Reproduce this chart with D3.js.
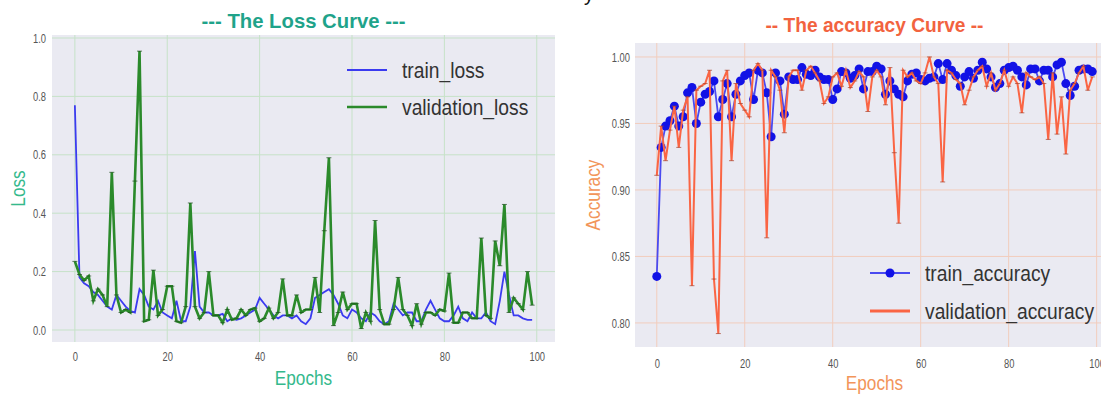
<!DOCTYPE html>
<html>
<head>
<meta charset="utf-8">
<script src="https://cdnjs.cloudflare.com/ajax/libs/d3/7.8.5/d3.min.js"></script>
<style>
  html, body { margin: 0; padding: 0; background: #fff; }
  svg { display: block; font-family: "Liberation Sans", Arial, sans-serif; }
</style>
</head>
<body>
<script>
// epochs 0..99
const epochs = d3.range(100);

const trainLoss = [
  0.77, 0.18, 0.16, 0.15, 0.13, 0.12, 0.10, 0.08, 0.07, 0.12,
  0.10, 0.08, 0.065, 0.06, 0.14, 0.12, 0.08, 0.07, 0.10, 0.06,
  0.05, 0.04, 0.10, 0.03, 0.03, 0.08, 0.27, 0.08, 0.06, 0.06,
  0.05, 0.05, 0.055, 0.03, 0.04, 0.035, 0.04, 0.05, 0.06, 0.07,
  0.11, 0.09, 0.07, 0.05, 0.04, 0.05, 0.05, 0.04, 0.05, 0.03,
  0.02, 0.04, 0.11, 0.12, 0.13, 0.14, 0.12, 0.09, 0.05, 0.04,
  0.07, 0.06, 0.04, 0.03, 0.06, 0.05, 0.03, 0.02, 0.03, 0.09,
  0.07, 0.05, 0.06, 0.06, 0.03, 0.03, 0.07, 0.10, 0.07, 0.04,
  0.03, 0.03, 0.05, 0.08, 0.04, 0.03, 0.06, 0.04, 0.04, 0.06,
  0.03, 0.02, 0.10, 0.20, 0.12, 0.05, 0.05, 0.04, 0.035, 0.035
];

const valLoss = [
  0.235, 0.19, 0.17, 0.185, 0.10, 0.14, 0.12, 0.08, 0.54, 0.12,
  0.06, 0.07, 0.06, 0.51, 0.955, 0.03, 0.035, 0.205, 0.05, 0.07,
  0.15, 0.15, 0.03, 0.025, 0.08, 0.435, 0.08, 0.04, 0.06, 0.20,
  0.05, 0.05, 0.025, 0.07, 0.035, 0.04, 0.07, 0.05, 0.07, 0.075,
  0.03, 0.04, 0.075, 0.04, 0.06, 0.175, 0.05, 0.05, 0.12, 0.06,
  0.07, 0.07, 0.18, 0.06, 0.34, 0.59, 0.015, 0.06, 0.13, 0.07,
  0.09, 0.09, 0.005, 0.06, 0.03, 0.375, 0.07, 0.02, 0.02, 0.07,
  0.18, 0.07, 0.05, 0.015, 0.09, 0.02, 0.06, 0.06, 0.05, 0.07,
  0.065, 0.195, 0.025, 0.025, 0.06, 0.06, 0.04, 0.04, 0.315, 0.05,
  0.04, 0.305, 0.22, 0.43, 0.06, 0.11, 0.09, 0.07, 0.20, 0.085
];

const trainAcc = [
  0.835, 0.932, 0.948, 0.952, 0.963, 0.948, 0.955, 0.973, 0.977, 0.950,
  0.966, 0.972, 0.974, 0.982, 0.955, 0.968, 0.980, 0.955, 0.972, 0.982,
  0.986, 0.988, 0.968, 0.990, 0.988, 0.973, 0.940, 0.988, 0.982, 0.957,
  0.985, 0.983, 0.983, 0.992, 0.987, 0.986, 0.990, 0.985, 0.983, 0.983,
  0.968, 0.976, 0.989, 0.988, 0.984, 0.986, 0.991, 0.976, 0.989, 0.989,
  0.993, 0.991, 0.972, 0.982, 0.976, 0.972, 0.970, 0.982, 0.987, 0.988,
  0.983, 0.982, 0.984, 0.985, 0.995, 0.983, 0.995, 0.990, 0.986, 0.978,
  0.985, 0.989, 0.984, 0.990, 0.996, 0.991, 0.985, 0.977, 0.980, 0.990,
  0.992, 0.993, 0.990, 0.985, 0.979, 0.991, 0.991, 0.982, 0.990, 0.990,
  0.985, 0.994, 0.996, 0.980, 0.971, 0.978, 0.990, 0.991, 0.991, 0.989
];

const valAcc = [
  0.911, 0.948, 0.922, 0.945, 0.963, 0.932, 0.960, 0.970, 0.828, 0.975,
  0.978, 0.980, 0.990, 0.833, 0.792, 0.982, 0.990, 0.922, 0.980, 0.965,
  0.960, 0.955, 0.990, 0.995, 0.990, 0.864, 0.990, 0.985, 0.975, 0.943,
  0.985, 0.990, 0.990, 0.975, 0.990, 0.993, 0.988, 0.982, 0.965, 0.970,
  0.985, 0.988, 0.978, 0.990, 0.977, 0.982, 0.989, 0.985, 0.959, 0.985,
  0.990, 0.985, 0.964, 0.992, 0.928, 0.875, 0.990, 0.985, 0.988, 0.982,
  0.980, 0.988, 1.000, 0.985, 0.980, 0.906, 0.990, 0.988, 0.983, 0.980,
  0.964, 0.975, 0.985, 0.990, 0.993, 0.978, 0.988, 0.975, 0.980, 0.990,
  0.978, 0.985, 0.980, 0.958, 0.988, 0.985, 0.983, 0.985, 0.980, 0.938,
  0.988, 0.942, 0.970, 0.927, 0.975, 0.980, 0.988, 0.993, 0.975, 0.985
];

const xTicks = [0, 20, 40, 60, 80, 100];
const lossTicks = [0.0, 0.2, 0.4, 0.6, 0.8, 1.0];
const accTicks = [0.80, 0.85, 0.90, 0.95, 1.00];

const W = 1101, H = 394;
const svg = d3.select("body").append("svg").attr("width", W).attr("height", H);

// squeeze text horizontally, the source uses a condensed face
const squeeze = (sel, factor) => sel.each(function () {
  const w = this.getComputedTextLength();
  d3.select(this).attr("textLength", w * factor).attr("lengthAdjust", "spacingAndGlyphs");
});

// stray glyph cut at the top edge of the source image
svg.append("text").attr("x", 584).attr("y", 1).attr("font-size", 20).attr("fill", "#111").text("y");

function drawPanel(p) {
  const x = d3.scaleLinear().domain([-4.95, 103.95]).range([p.left, p.right]);
  const y = d3.scaleLinear().domain(p.yDomain).range([p.bottom, p.top]);
  const g = svg.append("g");

  g.append("rect")
    .attr("x", p.left).attr("y", p.top)
    .attr("width", p.right - p.left).attr("height", p.bottom - p.top)
    .attr("fill", "#eaeaf2");

  // grid
  const grid = g.append("g").attr("stroke", p.gridColor).attr("stroke-width", 1);
  grid.selectAll(".gx").data(xTicks).enter().append("line")
    .attr("x1", d => x(d)).attr("x2", d => x(d))
    .attr("y1", p.top).attr("y2", p.bottom);
  grid.selectAll(".gy").data(p.yTicks).enter().append("line")
    .attr("x1", p.left).attr("x2", p.right)
    .attr("y1", d => y(d)).attr("y2", d => y(d));

  // axes (labels only, seaborn darkgrid style)
  const xAxis = g.append("g").attr("transform", `translate(0,${p.bottom})`)
    .call(d3.axisBottom(x).tickValues(xTicks).tickSize(0).tickPadding(p.xPad).tickFormat(d3.format("d")));
  const yAxis = g.append("g").attr("transform", `translate(${p.left},0)`)
    .call(d3.axisLeft(y).tickValues(p.yTicks).tickSize(0).tickPadding(p.yPad).tickFormat(d3.format(p.yFmt)));
  [xAxis, yAxis].forEach(a => {
    a.select(".domain").remove();
    a.selectAll("text").attr("fill", "#555").attr("font-size", 13)
      .attr("font-family", "'Liberation Sans', sans-serif")
      .call(squeeze, 0.72);
  });

  // series
  const clip = "clip" + p.id;
  svg.append("clipPath").attr("id", clip).append("rect")
    .attr("x", p.left).attr("y", p.top).attr("width", p.right - p.left).attr("height", p.bottom - p.top);
  const plot = g.append("g").attr("clip-path", `url(#${clip})`);

  p.series.forEach(s => {
    const line = d3.line().x((d, i) => x(epochs[i])).y(d => y(d));
    plot.append("path").datum(s.values)
      .attr("fill", "none").attr("stroke", s.color)
      .attr("stroke-width", s.width).attr("stroke-linejoin", "miter")
      .attr("d", line);
    if (s.dot) {
      plot.selectAll(null).data(s.values).enter().append("circle")
        .attr("cx", (d, i) => x(epochs[i])).attr("cy", d => y(d))
        .attr("r", s.dot).attr("fill", s.dotColor);
    }
    if (s.tick) {
      plot.selectAll(null).data(s.values).enter().append("line")
        .attr("x1", (d, i) => x(epochs[i]) - 2.5).attr("x2", (d, i) => x(epochs[i]) + 2.5)
        .attr("y1", d => y(d)).attr("y2", d => y(d))
        .attr("stroke", s.tick).attr("stroke-width", 1).attr("opacity", 0.7);
    }
  });

  // legend
  const lg = g.append("g");
  p.series.forEach((s, i) => {
    const ly = p.legend.y + i * p.legend.gap;
    lg.append("line")
      .attr("x1", p.legend.x).attr("x2", p.legend.x + 40)
      .attr("y1", ly).attr("y2", ly)
      .attr("stroke", s.legendColor || s.color).attr("stroke-width", s.legendWidth || s.width);
    if (s.dot) {
      lg.append("circle").attr("cx", p.legend.x + 20).attr("cy", ly).attr("r", s.dot).attr("fill", s.dotColor);
    }
    lg.append("text")
      .attr("x", p.legend.x + 55).attr("y", ly).attr("dy", "0.35em")
      .attr("font-size", 22).attr("fill", "#333").text(s.name)
      .call(squeeze, 0.875);
  });

  // titles
  g.append("text").attr("x", (p.left + p.right) / 2).attr("y", p.titleY)
    .attr("text-anchor", "middle").attr("font-size", 21).attr("font-weight", "bold")
    .attr("fill", p.titleColor).text(p.title)
    .attr("textLength", p.titleWidth).attr("lengthAdjust", "spacingAndGlyphs");
  g.append("text").attr("x", (p.left + p.right) / 2).attr("y", p.xLabelY)
    .attr("text-anchor", "middle").attr("font-size", 21)
    .attr("fill", p.labelColor).text("Epochs")
    .call(squeeze, 0.82);
  g.append("text")
    .attr("transform", `translate(${p.yLabelX},${(p.top + p.bottom) / 2}) rotate(-90)`)
    .attr("text-anchor", "middle").attr("font-size", 21)
    .attr("fill", p.labelColor).text(p.yLabel)
    .call(squeeze, 0.82);
}

drawPanel({
  id: "loss",
  left: 52, right: 555, top: 35, bottom: 342,
  yDomain: [-0.0411, 1.0103],
  yTicks: lossTicks, yFmt: ".1f",
  xPad: 10, yPad: 6,
  gridColor: "#c6e2c8",
  title: "--- The Loss Curve ---", titleY: 28, titleColor: "#1fa38a", titleWidth: 204,
  labelColor: "#35b98c", yLabel: "Loss", yLabelX: 25, xLabelY: 385,
  legend: { x: 347, y: 70, gap: 37 },
  series: [
    { name: "train_loss", values: trainLoss, color: "#3b3bf0", width: 1.8 },
    { name: "validation_loss", values: valLoss, color: "#2b8a2b", width: 2.6, tick: "#1f4f1f" }
  ]
});

drawPanel({
  id: "acc",
  left: 635, right: 1114, top: 43, bottom: 347,
  yDomain: [0.7819, 1.0105],
  yTicks: accTicks, yFmt: ".2f",
  xPad: 12, yPad: 5,
  gridColor: "#f2cdbd",
  title: "-- The accuracy Curve --", titleY: 32, titleColor: "#f2633f", titleWidth: 218,
  labelColor: "#f2955a", yLabel: "Accuracy", yLabelX: 600, xLabelY: 390,
  legend: { x: 870, y: 273, gap: 38 },
  series: [
    { name: "train_accuracy", values: trainAcc, color: "#4a4af0", width: 1.8, dot: 4.5, dotColor: "#1212e6" },
    { name: "validation_accuracy", values: valAcc, color: "#fa6544", width: 2, tick: "#a8402a", legendWidth: 3 }
  ]
});
</script>
</body>
</html>
